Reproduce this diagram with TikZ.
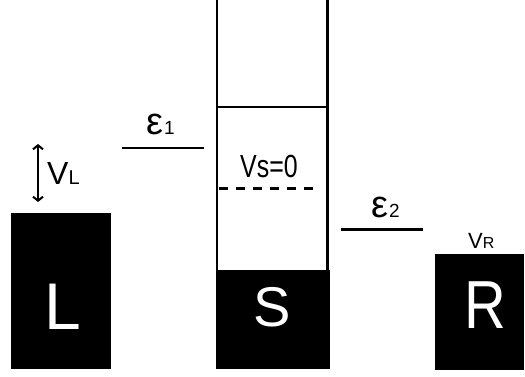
\documentclass[tikz,border=0pt]{standalone}
\usepackage{fontspec}
\setmainfont{Liberation Sans}
\usetikzlibrary{arrows.meta}
\newcommand{\fs}[1]{\fontsize{#1}{#1}\selectfont}
\begin{document}
\begin{tikzpicture}[x=1pt,y=-1pt,
  lvl/.style={line width=2.4pt},
  blk/.style={fill=black,draw=black},
  big/.style={text=white,inner sep=0pt,anchor=center},
  lab/.style={inner sep=0pt,anchor=base west}]
\useasboundingbox (0,0) rectangle (525,377);
% blocks
\fill[blk] (11,213) rectangle (110,368);
\fill[blk] (216,270) rectangle (329,368);
\fill[blk] (435,254) rectangle (523,369);
\node[big] (L) at (63,307) {\fs{66}L};
\node[big] (S) at (272,307) {\fs{56}S};
\node[big] (R) at (485,305) {\scalebox{0.85}[1]{\fs{68}R}};
% S column
\coordinate (c1t) at (217,-2);
\coordinate (c1b) at (217,270);
\coordinate (c2t) at (327.5,-2);
\coordinate (c2b) at (327.5,270);
\draw[lvl] (c1t) -- (c1b);
\draw[lvl] (c2t) -- (c2b);
\coordinate (h1) at (217,107);
\coordinate (h2) at (327.5,107);
\draw[lvl] (h1) -- (h2);
\coordinate (d1) at (219,188.5);
\coordinate (d2) at (318,188.5);
\draw[line width=2.2pt,dash pattern=on 9pt off 8pt] (d1) -- (d2);
\node[lab] (vs) at (240,178) {\scalebox{0.78}[1]{\fs{32}Vs=0}};
% levels
\coordinate (e1a) at (122,148);
\coordinate (e1b) at (204,148);
\draw[lvl] (e1a) -- (e1b);
\node[lab] (eps1) at (146,135) {\fs{38}ε\hspace{1pt}\fs{19}1};
\coordinate (e2a) at (341,229.5);
\coordinate (e2b) at (423,229.5);
\draw[lvl] (e2a) -- (e2b);
\node[lab] (eps2) at (371,217) {\fs{38}ε\hspace{1pt}\fs{19}2};
% V_L
\coordinate (va) at (38,144);
\coordinate (vb) at (38,202);
\draw[line width=2pt,{Straight Barb[length=4pt,width=10pt]}-{Straight Barb[length=4pt,width=10pt]}] (va) -- (vb);
\node[lab] (VL) at (47,185) {\fs{32}V\fs{20}L};
\node[lab] (VR) at (468,248) {\fs{22}V\fs{16}R};
\end{tikzpicture}
\end{document}
